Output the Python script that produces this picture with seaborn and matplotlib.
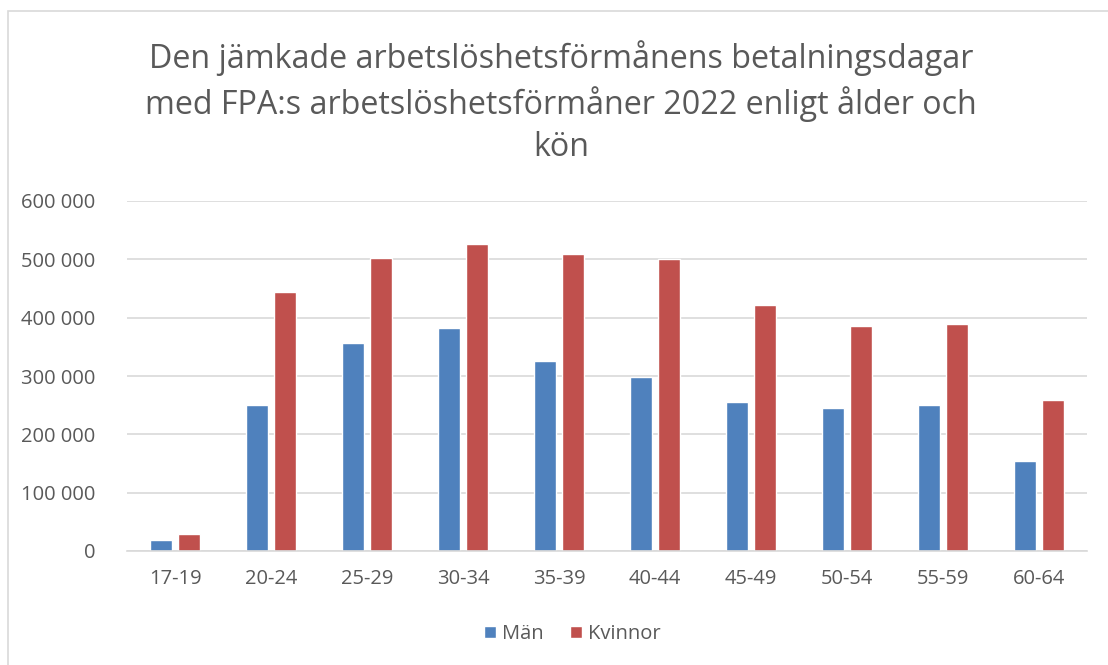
import matplotlib
matplotlib.use("Agg")
import matplotlib.pyplot as plt
import seaborn as sns
import pandas as pd
from matplotlib.patches import Rectangle

categories = ["17-19", "20-24", "25-29", "30-34", "35-39", "40-44", "45-49", "50-54", "55-59", "60-64"]
man = [19000, 251000, 357000, 383000, 326000, 299000, 255000, 246000, 250000, 155000]
kvinnor = [29000, 444000, 503000, 527000, 509000, 500000, 421000, 386000, 389000, 259000]
series_names = ["Män", "Kvinnor"]
yticks = [0, 100000, 200000, 300000, 400000, 500000, 600000]
title = "Den jämkade arbetslöshetsförmånens betalningsdagar\nmed FPA:s arbetslöshetsförmåner 2022 enligt ålder och\nkön"

df = pd.DataFrame({
    "Ålder": categories * 2,
    "Dagar": man + kvinnor,
    "Kön": [series_names[0]] * len(categories) + [series_names[1]] * len(categories),
})

sns.set_theme(style="white")
plt.rcParams["font.family"] = ["Open Sans", "DejaVu Sans"]
text_color = "#595959"

fig = plt.figure(figsize=(11.08, 6.65), dpi=100)
ax = fig.add_axes([127 / 1108, 1 - 551 / 665, (1087 - 127) / 1108, 350 / 665])

sns.barplot(data=df, x="Ålder", y="Dagar", hue="Kön", palette=["#4f81bd", "#c0504d"],
            width=0.57, gap=0.2, ax=ax, legend=True, saturation=1)

ax.set_ylim(0, 600000)
ax.set_yticks(yticks)
ax.set_yticklabels([f"{v:,}".replace(",", " ") for v in yticks])
ax.set_xlabel("")
ax.set_ylabel("")
ax.grid(axis="y", color="#d9d9d9", linewidth=1.2)
ax.set_axisbelow(True)
for s in ["top", "right", "left"]:
    ax.spines[s].set_visible(False)
ax.spines["bottom"].set_color("#d9d9d9")
ax.spines["bottom"].set_linewidth(1.2)
ax.tick_params(axis="both", colors=text_color, labelsize=14.5, length=0)
ax.tick_params(axis="x", pad=13)
ax.tick_params(axis="y", pad=23)

fig.text(561 / 1108, 1 - 102 / 665, title, ha="center", va="center", fontsize=23.2,
         color=text_color, linespacing=1.36)

h, l = ax.get_legend_handles_labels()
ax.legend_.remove()
fig.legend(h, l, loc="center", bbox_to_anchor=(572 / 1108, 1 - 634 / 665), ncol=2, frameon=False,
           fontsize=14.5, labelcolor=text_color, handlelength=0.6, handleheight=0.6,
           handletextpad=0.3, columnspacing=1.3)

fig.add_artist(Rectangle((8 / 1108, -0.1), 1.2, 1 - 11 / 665 + 0.1, transform=fig.transFigure,
                         fill=False, edgecolor="#d9d9d9", linewidth=1.2))

fig.savefig("out.png", dpi=100)
